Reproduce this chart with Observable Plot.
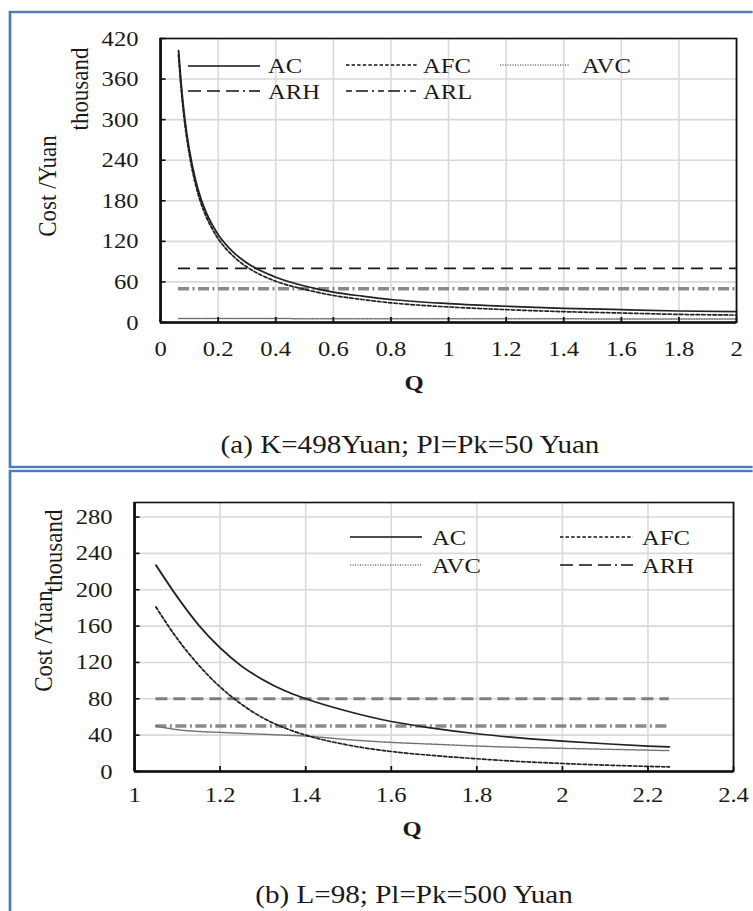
<!DOCTYPE html>
<html><head><meta charset="utf-8">
<script src="https://cdn.jsdelivr.net/npm/d3@7"></script>
<script src="https://cdn.jsdelivr.net/npm/@observablehq/plot@0.6"></script>
<style>
html,body{margin:0;padding:0;background:#fff;overflow:hidden;width:753px;height:911px;}
#stage{position:absolute;left:0;top:0;width:672.32px;height:911px;transform:scaleX(1.12);transform-origin:0 0;}
#stage svg{position:absolute;left:0;}
</style></head><body><div id="stage"></div>
<script>
// ---------- Panel (a): K=498 Yuan; Pl=Pk=50 Yuan ----------
const qA   = [0.0625, 0.07, 0.08, 0.09, 0.1, 0.12, 0.14, 0.16, 0.18, 0.2, 0.25, 0.3, 0.35, 0.4, 0.5, 0.6, 0.7, 0.8, 1.0, 1.2, 1.4, 1.6, 1.8, 2.0];
const acA  = [402, 360, 316, 282, 255, 213, 183, 161, 144, 130, 105, 88, 76, 67, 54, 45, 39, 34, 28, 24, 21, 19, 17, 16];
const afcA = [396, 354, 310, 276, 249, 207, 177, 155, 138, 124, 99, 82, 70, 61, 49, 40, 34, 29, 23, 19, 16, 14, 12, 11];
const avcA = [6, 6, 6, 6, 6, 6, 6, 6, 6, 6, 6, 6, 6, 6, 5.5, 5.5, 5.5, 5.5, 5.5, 5.5, 5.5, 5, 5, 5];
const arhA = [80];
const arlA = [50];
const qRangeA = [0.0625, 2.0];
const xTicksA = [0, 0.2, 0.4, 0.6, 0.8, 1, 1.2, 1.4, 1.6, 1.8, 2];
const yTicksA = [0, 60, 120, 180, 240, 300, 360, 420];

// ---------- Panel (b): L=98; Pl=Pk=500 Yuan ----------
const qB   = [1.05, 1.1, 1.15, 1.2, 1.25, 1.3, 1.35, 1.4, 1.5, 1.6, 1.7, 1.8, 1.9, 2.0, 2.1, 2.2, 2.25];
const acB  = [227, 192, 161, 136, 116, 101, 89, 80, 66, 55, 47.5, 41.5, 37, 33.5, 30.5, 28, 27];
const afcB = [181, 146, 117, 93, 74, 59, 48, 40, 29, 22, 17.5, 14, 11, 8.8, 7, 5.6, 5];
const avcB = [50, 46, 44, 43, 42, 41, 40, 39, 35, 32, 30, 28, 26.5, 25.5, 24.5, 23.5, 23];
const arhB = [80];
const arlB = [50];
const qRangeB = [1.05, 2.25];
const xTicksB = [1, 1.2, 1.4, 1.6, 1.8, 2, 2.2, 2.4];
const yTicksB = [0, 40, 80, 120, 160, 200, 240, 280];

const S = 1.12;             // horizontal stretch of the original figure
const W = 753 / S;
const FONT = '"Liberation Serif", "Times New Roman", serif';
const stage = document.getElementById("stage");

function panel({q, ac, afc, avc, arh, arl, qRange, xTicks, yTicks, xDomain, yDomain,
                left, right, top, bottom, height, xPad, arhStyle}) {
  const svg = Plot.plot({
    width: W, height,
    marginLeft: left / S, marginRight: W - right / S, marginTop: top, marginBottom: height - bottom,
    x: {domain: xDomain},
    y: {domain: yDomain},
    style: {fontFamily: FONT, fontSize: "22px", color: "#1a1a1a", background: "transparent", overflow: "visible"},
    marks: [
      Plot.gridX({ticks: xTicks, stroke: "#d9d9d9", strokeOpacity: 1, strokeWidth: 1.4}),
      Plot.gridY({ticks: yTicks, stroke: "#d9d9d9", strokeOpacity: 1, strokeWidth: 1.6}),
      Plot.ruleY(arh, {x1: qRange[0], x2: qRange[1], ...arhStyle}),
      Plot.ruleY(arl, {x1: qRange[0], x2: qRange[1], stroke: "#8a8a8a", strokeWidth: 3.4, strokeDasharray: `${11/S},${3.5/S},${2/S},${3.5/S}`}),
      Plot.line(q, {x: q, y: avc, stroke: "#6f6f6f", strokeWidth: 1.5, strokeDasharray: "1,1.3", curve: "monotone-x"}),
      Plot.line(q, {x: q, y: afc, stroke: "#222", strokeWidth: 1.7, strokeDasharray: "3,2", curve: "monotone-x"}),
      Plot.line(q, {x: q, y: ac, stroke: "#222", strokeWidth: 1.7, curve: "monotone-x"}),
      Plot.frame({stroke: "#111", strokeWidth: 1.6}),
      Plot.ruleY([yDomain[0]], {stroke: "#111", strokeWidth: 2.4}),
      Plot.ruleX([xDomain[0]], {stroke: "#111", strokeWidth: 2.4}),
      Plot.axisX({ticks: xTicks, tickSize: 5, dy: -5, fill: "none", stroke: "#111", strokeWidth: 1.6, label: null}),
      Plot.axisY({ticks: yTicks, tickSize: 5, dx: 5, fill: "none", stroke: "#111", strokeWidth: 1.6, label: null}),
      Plot.axisX({ticks: xTicks, tickSize: 0, tickPadding: xPad, tickFormat: d => String(d), label: null, fontSize: 22, fill: "#1a1a1a"}),
      Plot.axisY({ticks: yTicks, tickSize: 0, tickPadding: 22 / S, tickFormat: d => String(d), label: null, fontSize: 22, fill: "#1a1a1a"})
    ]
  });
  return svg;
}

const svgA = panel({
  q: qA, ac: acA, afc: afcA, avc: avcA, arh: arhA, arl: arlA, qRange: qRangeA,
  xTicks: xTicksA, yTicks: yTicksA, xDomain: [0, 2], yDomain: [0, 420],
  left: 160, right: 736, top: 38, bottom: 322, height: 470, xPad: 18,
  arhStyle: {stroke: "#1a1a1a", strokeWidth: 1.9, strokeDasharray: `${12/S},${7/S}`}
});
svgA.style.top = "0px";
stage.appendChild(svgA);

const svgB = panel({
  q: qB, ac: acB, afc: afcB, avc: avcB, arh: arhB, arl: arlB, qRange: qRangeB,
  xTicks: xTicksB, yTicks: yTicksB, xDomain: [1, 2.4], yDomain: [0, 296],
  left: 134, right: 733, top: 32, bottom: 301, height: 441, xPad: 15,
  arhStyle: {stroke: "#7f7f7f", strokeWidth: 3, strokeDasharray: `${12/S},${6/S}`}
});
svgB.style.top = "470px";
stage.appendChild(svgB);

// ---------- overlay: boxes, titles, legends, captions ----------
const px = x => x / S;
function legendLine(x1, x2, y, stroke, width, dash) {
  return `<line x1="${px(x1)}" x2="${px(x2)}" y1="${y}" y2="${y}" stroke="${stroke}" stroke-width="${width}" ${dash ? `stroke-dasharray="${dash}"` : ""}/>`;
}
function txt(x, y, s, extra = "") {
  return `<text x="${px(x)}" y="${y}" ${extra}>${s}</text>`;
}
function vtxt(x, y, s) {
  return `<text transform="translate(${px(x)},${y}) rotate(-90)" text-anchor="middle" font-size="23">${s}</text>`;
}
const dashAFC = `${3.4/S},${2.2/S}`;
const dotAVC = `${1.1/S},${1.4/S}`;
const dashARH = `${13/S},${6/S},${13/S},${6/S},${13/S},${4/S},${2/S},${4/S}`;
const dashARL = `${6/S},${4/S},${12/S},${4/S},${2/S},${4/S}`;

const overlay = `
<svg xmlns="http://www.w3.org/2000/svg" width="${W}" height="911" style="top:0;font-family:${FONT.replace(/"/g, "'")};fill:#1a1a1a;font-size:22px">
  <rect x="${px(10)}" y="12" width="${W}" height="455" fill="none" stroke="#4a7ebb" stroke-width="2.4"/>
  <rect x="${px(10)}" y="471" width="${W}" height="500" fill="none" stroke="#4a7ebb" stroke-width="2.4"/>

  ${vtxt(56, 186, "Cost /Yuan")}
  ${vtxt(88, 89, "thousand")}
  ${vtxt(52, 641, "Cost /Yuan")}
  ${vtxt(62, 551, "thousand")}

  ${legendLine(188, 260, 66, "#111", 1.6)}
  ${txt(268, 73, "AC")}
  ${legendLine(346, 417, 65, "#111", 1.4, dashAFC)}
  ${txt(423, 73, "AFC")}
  ${legendLine(500, 570, 65, "#777", 1.4, dotAVC)}
  ${txt(582, 73, "AVC")}
  ${legendLine(188, 260, 91, "#111", 1.6, dashARH)}
  ${txt(268, 99, "ARH")}
  ${legendLine(346, 417, 91, "#111", 1.6, dashARL)}
  ${txt(423, 99, "ARL")}

  ${legendLine(350, 422, 537, "#111", 1.6)}
  ${txt(432, 545, "AC")}
  ${legendLine(560, 633, 537, "#111", 1.4, dashAFC)}
  ${txt(642, 545, "AFC")}
  ${legendLine(350, 422, 565, "#777", 1.4, dotAVC)}
  ${txt(432, 573, "AVC")}
  ${legendLine(560, 633, 565, "#111", 1.6, dashARH)}
  ${txt(642, 573, "ARH")}

  ${txt(414, 390, "Q", 'text-anchor="middle" font-weight="bold" font-size="22"')}
  ${txt(412, 836, "Q", 'text-anchor="middle" font-weight="bold" font-size="22"')}
  ${txt(410, 453, "(a) K=498Yuan; Pl=Pk=50 Yuan", 'text-anchor="middle" font-size="26"')}
  ${txt(414, 903, "(b) L=98; Pl=Pk=500 Yuan", 'text-anchor="middle" font-size="26"')}
</svg>`;
stage.insertAdjacentHTML("beforeend", overlay);
</script>
</body></html>
